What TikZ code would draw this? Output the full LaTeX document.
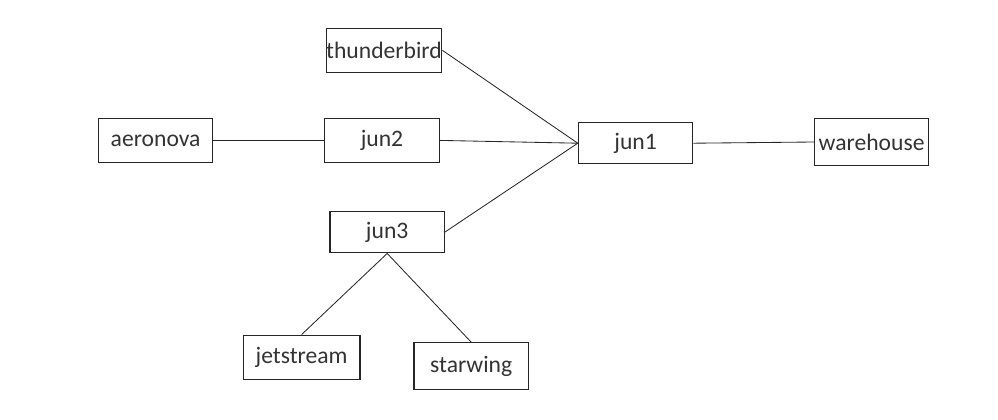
\documentclass[tikz,border=0pt]{standalone}
\usepackage{fontspec}
\setmainfont{Carlito}
\begin{document}
\begin{tikzpicture}[x=1cm,y=1cm,
  box/.style={draw=black!85, line width=0.9pt, minimum width=2.86cm, minimum height=1.1cm, inner sep=0pt, text=black!80, font=\fontsize{16.8}{20}\selectfont},
  link/.style={draw=black!85, line width=0.6pt}]
\useasboundingbox (0,0) rectangle (24.95,-10.475);
\node[box] (tb) at (9.6,-1.26) {thunderbird};
\node[box] (ae) at (3.89,-3.51) {aeronova};
\node[box] (j2) at (9.55,-3.51) {jun2};
\node[box, minimum height=1.04cm] (j3) at (9.68,-5.8) {jun3};
\node[box, minimum height=1.03cm] (j1) at (15.89,-3.58) {jun1};
\node[box, minimum height=1.16cm] (wh) at (21.79,-3.55) {warehouse};
\node[box, minimum width=2.92cm] (js) at (7.54,-8.93) {jetstream};
\node[box, minimum height=1.16cm] (sw) at (11.78,-9.15) {starwing};
\draw[link] (tb.east) -- (j1.west);
\draw[link] (j2.east) -- (j1.west);
\draw[link] (j3.east) -- (j1.west);
\draw[link] (ae.east) -- (j2.west);
\draw[link] (j1.east) -- (wh.west);
\draw[link] (j3.south) -- (js.north);
\draw[link] (j3.south) -- (sw.north);
\end{tikzpicture}
\end{document}
